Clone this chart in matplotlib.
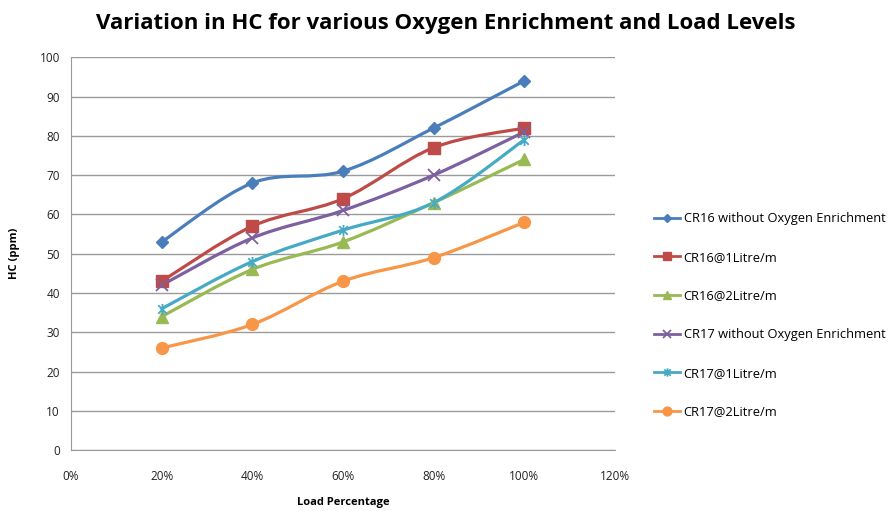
import numpy as np
import matplotlib.pyplot as plt
from matplotlib.path import Path
from matplotlib.patches import PathPatch
from matplotlib.lines import Line2D
from matplotlib.ticker import FuncFormatter, MultipleLocator

# Load levels (fraction of full load) and HC readings in ppm
load = [0.2, 0.4, 0.6, 0.8, 1.0]
cr16_no_o2 = [53, 68, 71, 82, 94]
cr16_1lpm = [43, 57, 64, 77, 82]
cr16_2lpm = [34, 46, 53, 63, 74]
cr17_no_o2 = [42, 54, 61, 70, 81]
cr17_1lpm = [36, 48, 56, 63, 79]
cr17_2lpm = [26, 32, 43, 49, 58]

labels = ['CR16 without Oxygen Enrichment', 'CR16@1Litre/m', 'CR16@2Litre/m',
          'CR17 without Oxygen Enrichment', 'CR17@1Litre/m', 'CR17@2Litre/m']
colors = ['#4a7ebb', '#be4b48', '#98b954', '#7d60a0', '#46aac5', '#f79646']

# x with a vertical bar, like the spreadsheet "star" marker
star = Path([(-1, -1), (1, 1), (-1, 1), (1, -1), (0, -1.3), (0, 1.3)],
            [Path.MOVETO, Path.LINETO, Path.MOVETO, Path.LINETO, Path.MOVETO, Path.LINETO])
markers = ['D', 's', '^', 'x', star, 'o']
msizes = [6, 8, 8, 8, 8, 8.5]

plt.rcParams['font.family'] = ['Open Sans', 'DejaVu Sans']


def smooth_path(xs, ys):
    # cubic Bezier through the points, Catmull-Rom style tangents
    pts = np.column_stack([xs, ys]).astype(float)
    verts = [pts[0]]
    codes = [Path.MOVETO]
    n = len(pts)
    for i in range(n - 1):
        p0 = pts[i - 1] if i > 0 else pts[i]
        p1 = pts[i]
        p2 = pts[i + 1]
        p3 = pts[i + 2] if i + 2 < n else pts[i + 1]
        c1 = p1 + (p2 - p0) / 6.0
        c2 = p2 - (p3 - p1) / 6.0
        verts += [c1, c2, p2]
        codes += [Path.CURVE4] * 3
    return Path(verts, codes)


fig = plt.figure(figsize=(8.91, 5.11), dpi=100)
ax = fig.add_axes([0.0797, 0.119, 0.6106, 0.769])

series = [cr16_no_o2, cr16_1lpm, cr16_2lpm, cr17_no_o2, cr17_1lpm, cr17_2lpm]
handles = []
for vals, lab, c, m, ms in zip(series, labels, colors, markers, msizes):
    ax.add_patch(PathPatch(smooth_path(load, vals), fill=False, edgecolor=c,
                           lw=2.3, zorder=3, capstyle='round', joinstyle='round'))
    mew = 1.3 if m in ('x',) or m is star else 1
    ax.plot(load, vals, ls='none', marker=m, ms=ms, color=c, mec=c, mew=mew, zorder=4)
    handles.append(Line2D([], [], color=c, lw=2, marker=m, ms=ms * 0.75, mew=mew, label=lab))

ax.set_xlim(0, 1.2)
ax.set_ylim(0, 100)
ax.xaxis.set_major_locator(MultipleLocator(0.2))
ax.yaxis.set_major_locator(MultipleLocator(10))
ax.xaxis.set_major_formatter(FuncFormatter(lambda v, p: '%d%%' % round(v * 100)))
ax.grid(axis='y', color='#9a9a9a', lw=1)
ax.set_axisbelow(True)
for s in ['top', 'right']:
    ax.spines[s].set_visible(False)
for s in ['left', 'bottom']:
    ax.spines[s].set_color('#9a9a9a')
ax.tick_params(axis='both', labelsize=8.5, colors='#9a9a9a', labelcolor='#222222', length=0)
ax.tick_params(axis='x', pad=14)
ax.tick_params(axis='y', pad=8)

ax.set_xlabel('Load Percentage', fontsize=8, fontweight='bold', labelpad=10)
ax.set_ylabel('HC (ppm)', fontsize=8, fontweight='bold', labelpad=14)
fig.suptitle('Variation in HC for various Oxygen Enrichment and Load Levels',
             fontsize=16, fontweight='bold', x=0.5, y=0.975)

fig.legend(handles=handles, loc='center left', bbox_to_anchor=(0.734, 0.383),
           frameon=False, fontsize=9.3, labelspacing=1.98, handlelength=2.0,
           handletextpad=0.3, borderpad=0, borderaxespad=0)

fig.savefig('out.png', dpi=100)
